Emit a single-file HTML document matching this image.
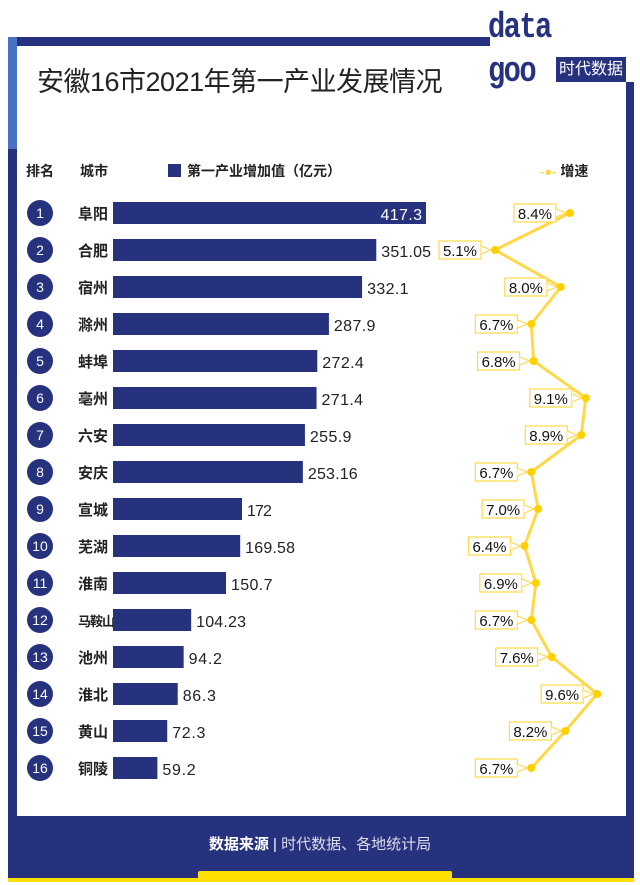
<!DOCTYPE html>
<html><head><meta charset="utf-8"><style>
body{margin:0;width:640px;height:885px;background:#fff;position:relative;overflow:hidden;font-family:"Liberation Sans","Noto Sans CJK SC",sans-serif}
.a{position:absolute}
</style></head><body>
<div class="a" style="left:8px;top:37px;width:482px;height:9px;background:#27327f"></div>
<div class="a" style="left:8px;top:37px;width:9px;height:841px;background:#27327f"></div>
<div class="a" style="left:8px;top:37px;width:9px;height:112px;background:#4a72c4"></div>
<div class="a" style="left:626px;top:82px;width:8px;height:796px;background:#27327f"></div>
<div class="a" style="left:8px;top:816px;width:626px;height:62px;background:#27327f"></div>
<div class="a" style="left:8px;top:878px;width:626px;height:4px;background:#ffe000"></div>
<div class="a" style="left:198px;top:871px;width:254px;height:8px;background:#ffe000;border-radius:2px 2px 0 0"></div>
<div class="a" style="left:0;width:640px;top:833px;text-align:center;color:#fff;font-size:15px"><b>数据来源</b> | <span style="color:#dde">时代数据、各地统计局</span></div>
<div class="a" style="left:37px;top:60px;font-size:27px;color:#222;letter-spacing:-0.5px">安徽16市2021年第一产业发展情况</div>
<div class="a" style="left:488px;top:6px;font-size:36px;font-weight:bold;color:#27327f;letter-spacing:-2px;line-height:44px;font-family:'Liberation Mono',monospace;transform:scaleX(0.8);transform-origin:left top">data<br>goo</div>
<div class="a" style="left:556px;top:57px;width:70px;height:25px;background:#27327f;color:#fff;font-size:16px;line-height:25px;text-align:center">时代数据</div>
<div class="a" style="left:26px;top:161px;font-size:14px;font-weight:bold;color:#222">排名</div>
<div class="a" style="left:80px;top:161px;font-size:14px;font-weight:bold;color:#222">城市</div>
<div class="a" style="left:168px;top:161px;font-size:14px;font-weight:bold;color:#222"><span style="display:inline-block;width:13px;height:13px;background:#27327f;vertical-align:-1px;margin-right:6px"></span>第一产业增加值（亿元）</div>
<div class="a" style="left:540px;top:161px;font-size:14px;font-weight:bold;color:#222"><span style="color:#ffd84a;font-size:13px;font-weight:bold">-●-</span> 增速</div>
<svg class="a" style="left:0;top:0" width="640" height="885" id="chart"></svg>
<script>
const cities=["阜阳","合肥","宿州","滁州","蚌埠","亳州","六安","安庆","宣城","芜湖","淮南","马鞍山","池州","淮北","黄山","铜陵"];
const values=[417.3,351.05,332.1,287.9,272.4,271.4,255.9,253.16,172,169.58,150.7,104.23,94.2,86.3,72.3,59.2];
const labels=["417.3","351.05","332.1","287.9","272.4","271.4","255.9","253.16","172","169.58","150.7","104.23","94.2","86.3","72.3","59.2"];
const growth=[8.4,5.1,8.0,6.7,6.8,9.1,8.9,6.7,7.0,6.4,6.9,6.7,7.6,9.6,8.2,6.7];
const NS="http://www.w3.org/2000/svg";
const svg=document.getElementById('chart');
const y=i=>213+i*37;
const xb=v=>v*0.75;
const xg=g=>495+(g-5.1)*22.7;
function mk(t,a,p){const e=document.createElementNS(NS,t);for(const k in a)e.setAttribute(k,a[k]);(p||svg).appendChild(e);return e;}
let pts=growth.map((g,i)=>xg(g)+","+y(i)).join(" ");
cities.forEach((c,i)=>{
 const cy=y(i);
 const ci=mk('circle',{cx:40,cy:cy,r:13,fill:'#27327f'});
 
 
 const rt=mk('text',{x:40,y:cy+5,'text-anchor':'middle',fill:'#fff','font-size':14});rt.textContent=i+1;
 
 
 const ct=mk('text',{x:78,y:cy+6,fill:'#222','font-size':c.length>2?13:15,'font-weight':'bold','letter-spacing':c.length>2?-1:0});ct.textContent=c;
 
 
 const w=xb(values[i]);
 const b=mk('rect',{x:113,y:cy-11,width:w,height:22,fill:'#27327f'});
 
 
 const inside=i===0;
 const vt=mk('text',{x:inside?113+w-4:113+w+5,y:cy+7,fill:inside?'#fff':'#222','font-size':16,'text-anchor':inside?'end':'start','textLength':labels[i].length*8.3});vt.textContent=labels[i];
 
 
});
const ln=mk('polyline',{points:pts,fill:'none',stroke:'#ffd84a','stroke-width':3});


growth.forEach((g,i)=>{
 const px=xg(g),cy=y(i);
 const bx=px-56;
 const r=mk('rect',{x:bx,y:cy-9,width:42,height:18,fill:'#fff',stroke:'#ffd84a','stroke-width':1.2});
 
 
 mk('polyline',{points:(bx+42)+","+(cy-4)+" "+(px-4)+","+cy+" "+(bx+42)+","+(cy+4),fill:'#fff',stroke:'#ffd84a','stroke-width':1.2});
 const t=mk('text',{x:bx+21,y:cy+6,'text-anchor':'middle','font-size':15,fill:'#111','textLength':34});t.textContent=g.toFixed(1)+"%";
 
 
 const d=mk('circle',{cx:px,cy:cy,r:4,fill:'#ffd000'});
 
 
});
</script>
</body></html>
